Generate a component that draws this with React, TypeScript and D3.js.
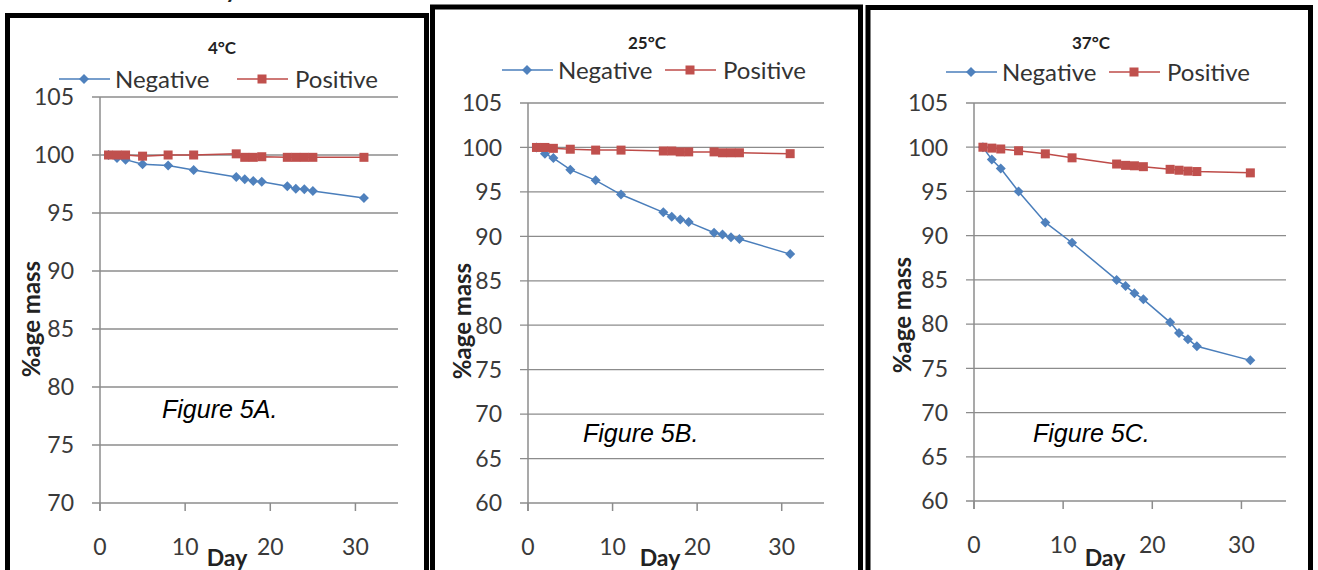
import React from "react";
import * as d3 from "d3";

// sampling days (shared by all three panels)
const days = [1, 2, 3, 5, 8, 11, 16, 17, 18, 19, 22, 23, 24, 25, 31];

// 4°C
const neg4 = [100, 99.75, 99.6, 99.2, 99.1, 98.7, 98.1, 97.9, 97.75, 97.7, 97.3, 97.1, 97.05, 96.9, 96.3];
const pos4 = [100, 100, 100, 99.9, 100, 100, 100.1, 99.8, 99.8, 99.85, 99.8, 99.8, 99.8, 99.8, 99.8];
// 25°C
const neg25 = [100, 99.3, 98.8, 97.5, 96.3, 94.7, 92.7, 92.2, 91.9, 91.6, 90.4, 90.2, 89.9, 89.7, 88.0];
const pos25 = [100, 100, 99.9, 99.8, 99.7, 99.7, 99.6, 99.6, 99.5, 99.5, 99.5, 99.4, 99.4, 99.4, 99.3];
// 37°C
const neg37 = [100, 98.6, 97.6, 95.0, 91.5, 89.2, 85.0, 84.3, 83.5, 82.8, 80.2, 79.0, 78.3, 77.5, 75.9];
const pos37 = [100, 99.9, 99.8, 99.6, 99.25, 98.8, 98.1, 97.95, 97.9, 97.8, 97.5, 97.4, 97.3, 97.25, 97.1];

const xTicks = [0, 10, 20, 30];
const yTicksA = [70, 75, 80, 85, 90, 95, 100, 105];
const yTicksBC = [60, 65, 70, 75, 80, 85, 90, 95, 100, 105];
const titles = ["4°C", "25°C", "37°C"];
const figLabels = ["Figure 5A.", "Figure 5B.", "Figure 5C."];
const seriesNames = ["Negative", "Positive"];

const BLUE = "#4a7ebb";
const BLUE_M = "#4f81bd";
const RED = "#be4b48";
const RED_M = "#c0504d";
const GRID = "#8c8c8c";
const FONT = "Lato, 'Open Sans', sans-serif";

type PanelProps = {
  box: [number, number, number, number];
  x0: number;
  x1: number;
  yTop: number;
  yBot: number;
  yTicks: number[];
  neg: number[];
  pos: number[];
  title: string;
  titleX: number;
  titleY: number;
  legendY: number;
  legNegX: number;
  legPosX: number;
  fig: string;
  figX: number;
  figY: number;
  yTitleX: number;
  yTitleY: number;
  dayX: number;
};

const Panel = (p: PanelProps) => {
  const x = d3.scaleLinear().domain([0, 35]).range([p.x0, p.x1]);
  const y = d3
    .scaleLinear()
    .domain([d3.min(p.yTicks)!, d3.max(p.yTicks)!])
    .range([p.yBot, p.yTop]);
  const line = d3
    .line<number>()
    .x((_, i) => x(days[i]))
    .y((d) => y(d));
  const diamond = (cx: number, cy: number, r = 5) =>
    `M${cx},${cy - r}L${cx + r},${cy}L${cx},${cy + r}L${cx - r},${cy}Z`;
  const sq = 9;

  return (
    <g>
      <rect
        x={p.box[0]}
        y={p.box[1]}
        width={p.box[2]}
        height={p.box[3]}
        fill="white"
        stroke="black"
        strokeWidth={5}
      />
      {/* gridlines */}
      {p.yTicks.map((t) => (
        <g key={t}>
          <line x1={p.x0 - 8} x2={p.x1} y1={y(t)} y2={y(t)} stroke={GRID} strokeWidth={1.3} />
          <text
            x={p.x0 - 26}
            y={y(t)}
            dy="0.36em"
            textAnchor="end"
            fontFamily={FONT}
            fontSize={23}
            fill="#3a3a3a"
          >
            {t}
          </text>
        </g>
      ))}
      <line x1={p.x0} x2={p.x0} y1={p.yTop} y2={p.yBot + 8} stroke={GRID} strokeWidth={1.5} />
      {xTicks.map((t) => (
        <g key={t}>
          <line x1={x(t)} x2={x(t)} y1={p.yBot} y2={p.yBot + 8} stroke={GRID} strokeWidth={1.5} />
          <text
            x={x(t)}
            y={p.yBot + 52}
            textAnchor="middle"
            fontFamily={FONT}
            fontSize={23}
            fill="#3a3a3a"
          >
            {t}
          </text>
        </g>
      ))}
      {/* series */}
      <path d={line(p.neg)!} fill="none" stroke={BLUE} strokeWidth={1.5} />
      <path d={line(p.pos)!} fill="none" stroke={RED} strokeWidth={1.5} />
      {p.neg.map((v, i) => (
        <path key={"n" + i} d={diamond(x(days[i]), y(v))} fill={BLUE_M} />
      ))}
      {p.pos.map((v, i) => (
        <rect key={"p" + i} x={x(days[i]) - sq / 2} y={y(v) - sq / 2} width={sq} height={sq} fill={RED_M} />
      ))}
      {/* title */}
      <text x={p.titleX} y={p.titleY} textAnchor="middle" fontFamily={FONT} fontWeight="bold" fontSize={17} fill="#222">
        {p.title}
      </text>
      {/* legend */}
      <line x1={p.legNegX} x2={p.legNegX + 51} y1={p.legendY} y2={p.legendY} stroke={BLUE} strokeWidth={1.5} />
      <path d={diamond(p.legNegX + 25, p.legendY)} fill={BLUE_M} />
      <text x={p.legNegX + 56} y={p.legendY} dy="0.36em" fontFamily={FONT} fontSize={24} fill="#333">
        {seriesNames[0]}
      </text>
      <line x1={p.legPosX} x2={p.legPosX + 51} y1={p.legendY} y2={p.legendY} stroke={RED} strokeWidth={1.5} />
      <rect x={p.legPosX + 25 - sq / 2} y={p.legendY - sq / 2} width={sq} height={sq} fill={RED_M} />
      <text x={p.legPosX + 58} y={p.legendY} dy="0.36em" fontFamily={FONT} fontSize={24} fill="#333">
        {seriesNames[1]}
      </text>
      {/* figure label */}
      <text
        x={p.figX}
        y={p.figY}
        fontFamily="'Liberation Sans', Arial, sans-serif"
        fontStyle="italic"
        fontSize={25}
        fill="black"
      >
        {p.fig}
      </text>
      {/* axis titles */}
      <text
        transform={`translate(${p.yTitleX},${p.yTitleY}) rotate(-90)`}
        textAnchor="middle"
        dy="0.36em"
        fontFamily={FONT}
        fontWeight="bold"
        fontSize={24}
        fill="#222"
      >
        %age mass
      </text>
      <text x={p.dayX} y={566} textAnchor="middle" fontFamily={FONT} fontWeight="bold" fontSize={23} fill="#222">
        Day
      </text>
    </g>
  );
};

export default function App() {
  return (
    <svg
      width={1318}
      height={570}
      style={{ position: "absolute", left: 0, top: 0, background: "white" }}
    >
      {/* descender of text cropped off above the figure */}
      <text x={217} y={-2} textAnchor="middle" fontFamily={FONT} fontWeight="bold" fontSize={23} fill="#222">
        Day
      </text>
      <Panel
        box={[7.5, 15.5, 419, 600]}
        x0={100}
        x1={398}
        yTop={97}
        yBot={503}
        yTicks={yTicksA}
        neg={neg4}
        pos={pos4}
        title={titles[0]}
        titleX={222}
        titleY={54}
        legendY={79}
        legNegX={59}
        legPosX={237}
        fig={figLabels[0]}
        figX={162}
        figY={418}
        yTitleX={31}
        yTitleY={319}
        dayX={227}
      />
      <Panel
        box={[432.5, 7, 428, 600]}
        x0={528}
        x1={824}
        yTop={103}
        yBot={503}
        yTicks={yTicksBC}
        neg={neg25}
        pos={pos25}
        title={titles[1]}
        titleX={647}
        titleY={49}
        legendY={70}
        legNegX={502}
        legPosX={665}
        fig={figLabels[1]}
        figX={583}
        figY={442}
        yTitleX={462}
        yTitleY={321}
        dayX={660}
      />
      <Panel
        box={[868, 7.5, 442.5, 600]}
        x0={974}
        x1={1286}
        yTop={103}
        yBot={501}
        yTicks={yTicksBC}
        neg={neg37}
        pos={pos37}
        title={titles[2]}
        titleX={1091}
        titleY={49}
        legendY={72}
        legNegX={946}
        legPosX={1109}
        fig={figLabels[2]}
        figX={1033}
        figY={442}
        yTitleX={902}
        yTitleY={315}
        dayX={1105}
      />
    </svg>
  );
}
